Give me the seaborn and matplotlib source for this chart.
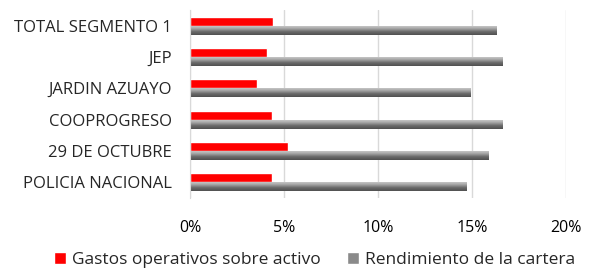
import matplotlib
matplotlib.use("Agg")
import matplotlib.pyplot as plt
import numpy as np
import pandas as pd
import seaborn as sns
from matplotlib.ticker import PercentFormatter, FixedLocator
from matplotlib.patches import Patch

categorias = ["TOTAL SEGMENTO 1", "JEP", "JARDIN AZUAYO", "COOPROGRESO",
              "29 DE OCTUBRE", "POLICIA NACIONAL"]
gastos = [4.4, 4.1, 3.55, 4.35, 5.2, 4.35]
rendimiento = [16.3, 16.6, 14.9, 16.6, 15.9, 14.7]
series = ["Gastos operativos sobre activo", "Rendimiento de la cartera"]

df = pd.DataFrame({
    "cat": categorias * 2,
    "serie": [series[0]] * 6 + [series[1]] * 6,
    "valor": gastos + rendimiento,
})

sns.set_style("white")
plt.rcParams["font.family"] = ["Open Sans", "DejaVu Sans"]

fig = plt.figure(figsize=(5.89, 2.74), dpi=100)
ax = fig.add_axes([0.3226, 0.2774, 0.6384, 0.6861])

sns.barplot(data=df, y="cat", x="valor", hue="serie", orient="h",
            order=categorias, hue_order=series,
            palette=["#ff0000", "#9a9a9a"], width=0.58, ax=ax,
            legend=False, saturation=1)

# gradient fill for the grey bars
grad = np.linspace(0, 1, 64).reshape(-1, 1)
cmap = matplotlib.colors.LinearSegmentedColormap.from_list(
    "g", ["#d2d2d2", "#a8a8a8", "#6a6a6a", "#505050"])
for p in ax.patches[len(categorias):]:
    x0, y0 = p.get_x(), p.get_y()
    w, h = p.get_width(), p.get_height()
    p.set_facecolor("none")
    p.set_edgecolor("none")
    im = ax.imshow(grad, cmap=cmap, aspect="auto",
                   extent=[x0, x0 + w, y0 + h, y0], zorder=2)
    im.set_clip_path(p)

ax.set_xlim(0, 20)
ax.set_ylim(len(categorias) - 0.5, -0.5)
ax.xaxis.set_major_formatter(PercentFormatter(decimals=0))
ax.set_xticks([0, 5, 10, 15, 20])
ax.grid(axis="x", color="#d9d9d9", linewidth=1)
ax.set_axisbelow(True)
ax.set_xlabel("")
ax.set_ylabel("")
for s in ["top", "right", "bottom"]:
    ax.spines[s].set_visible(False)
ax.spines["left"].set_color("#d9d9d9")
ax.tick_params(axis="x", length=0, pad=16, labelsize=11.5, colors="#000000")
ax.tick_params(axis="y", length=0, pad=13, labelsize=12)
ax.yaxis.set_minor_locator(FixedLocator(np.arange(-0.5, len(categorias), 1)))
ax.tick_params(axis="y", which="minor", length=4, color="#d9d9d9")

handles = [Patch(facecolor="#ff0000", label=series[0]),
           Patch(facecolor="#8a8a8a", label=series[1])]
fig.legend(handles=handles, loc="lower center", bbox_to_anchor=(0.534, -0.035),
           ncol=2, frameon=False, fontsize=12.5, handlelength=0.7,
           handleheight=0.7, handletextpad=0.35, columnspacing=1.5)

fig.savefig("out.png", dpi=100)
